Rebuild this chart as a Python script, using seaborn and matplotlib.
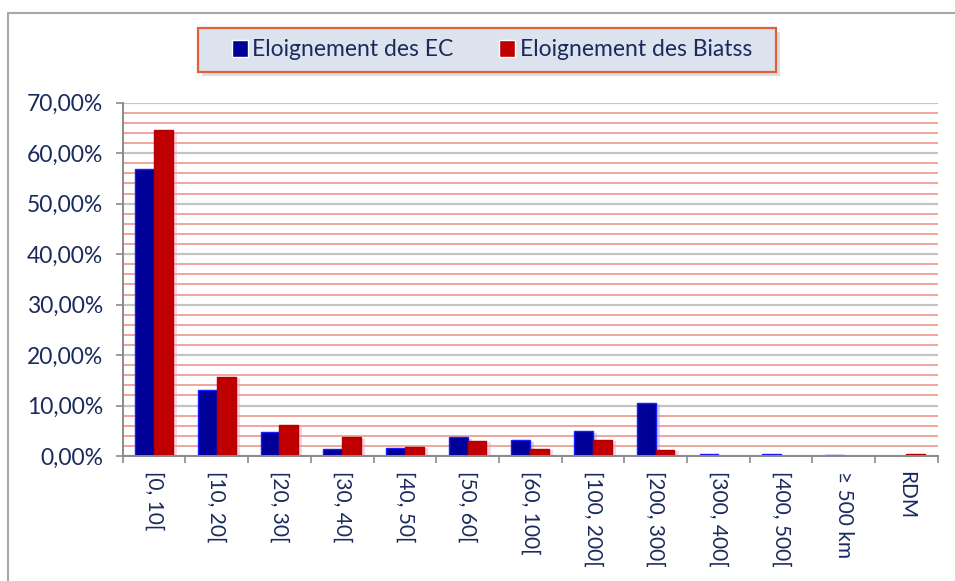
import matplotlib

matplotlib.use('Agg')
import matplotlib.pyplot as plt
import matplotlib.patheffects as pe
from matplotlib.lines import Line2D
from matplotlib.patches import Rectangle
from matplotlib.ticker import MultipleLocator, FuncFormatter, FixedLocator
import seaborn as sns
import pandas as pd

# distance classes (km) and share of staff in each
categories = ["[0, 10[", "[10, 20[", "[20, 30[", "[30, 40[", "[40, 50[", "[50, 60[",
              "[60, 100[", "[100, 200[", "[200, 300[", "[300, 400[", "[400, 500[",
              "≥ 500 km", "RDM"]
ec_pct = [56.8, 13.1, 4.8, 1.3, 1.5, 3.7, 3.1, 4.9, 10.5, 0.45, 0.35, 0.3, 0.0]
biatss_pct = [64.5, 15.7, 6.2, 3.7, 1.8, 3.0, 1.45, 3.2, 1.25, 0.1, 0.0, 0.0, 0.4]
series_names = ["Eloignement des EC", "Eloignement des Biatss"]

df = pd.DataFrame({
    "classe": categories * 2,
    "pct": ec_pct + biatss_pct,
    "serie": [series_names[0]] * len(categories) + [series_names[1]] * len(categories),
})

sns.set_style("white")
plt.rcParams['font.family'] = ['Lato', 'DejaVu Sans']
txt_color = '#1a2a5c'

fig = plt.figure(figsize=(9.55, 5.81), dpi=100)
ax = fig.add_axes([0.1285, 0.2151, 0.8535, 0.6081])

sns.barplot(data=df, x="classe", y="pct", hue="serie", order=categories,
            hue_order=series_names, palette=['#000099', '#c00000'], saturation=1,
            width=0.6, gap=0, ax=ax, legend=True)

# bar edges + soft glow like the original
n = len(categories)
for i, bar in enumerate(ax.patches[:2 * n]):
    if i < n:
        bar.set_edgecolor('#1a1aff')
        glow = '#9aa0ff'
    else:
        bar.set_edgecolor('#b00000')
        glow = '#ff9fc8'
    bar.set_linewidth(1.0)
    bar.set_path_effects([pe.SimplePatchShadow(offset=(3, -1), shadow_rgbFace=glow, alpha=0.45),
                          pe.Normal()])

ax.set_ylim(0, 70)
ax.set_xlim(-0.5, n - 0.5)
ax.yaxis.set_major_locator(MultipleLocator(10))
ax.yaxis.set_minor_locator(MultipleLocator(2))
ax.yaxis.set_major_formatter(FuncFormatter(lambda v, p: f"{v:.2f}".replace('.', ',') + "%"))
ax.set_axisbelow(True)
ax.grid(axis='y', which='minor', color='#f0a69c', lw=1.4)
ax.grid(axis='y', which='major', color='#c4c4c4', lw=1.6)

# category boundaries get the tick marks
ax.xaxis.set_minor_locator(FixedLocator([k - 0.5 for k in range(n + 1)]))
ax.tick_params(axis='x', which='major', length=0, pad=11, labelsize=15, labelcolor=txt_color)
ax.tick_params(axis='x', which='minor', bottom=True, length=5, width=1.2, color='#8a8a8a')
ax.tick_params(axis='y', which='major', left=True, length=5, width=1.2, color='#8a8a8a',
               labelsize=16.5, labelcolor=txt_color, pad=9)
ax.tick_params(axis='y', which='minor', length=0)
for lab in ax.get_xticklabels():
    lab.set_rotation(270)
    lab.set_va('top')
    lab.set_ha('center')

sns.despine(ax=ax, top=True, right=True)
for side in ['left', 'bottom']:
    ax.spines[side].set_color('#8a8a8a')
    ax.spines[side].set_linewidth(1.4)
ax.set_xlabel('')
ax.set_ylabel('')

# legend box drawn by hand, legend itself without frame
handles, labels = ax.get_legend_handles_labels()
ax.get_legend().remove()
bx, by, bw, bh = 198 / 955, 1 - 72 / 581, 578 / 955, 44 / 581
fig.add_artist(Rectangle((bx + 0.004, by - 0.007), bw, bh, transform=fig.transFigure,
                         facecolor='#c8c8c8', edgecolor='none', alpha=0.6, zorder=1))
fig.add_artist(Rectangle((bx, by), bw, bh, transform=fig.transFigure,
                         facecolor='#dde3ee', edgecolor='#e0603a', lw=1.6, zorder=2))
leg = fig.legend(handles, labels, loc='center', bbox_to_anchor=(492 / 955, 1 - 50 / 581),
                 ncol=2, frameon=False, fontsize=16.5, handlelength=0.7, handleheight=0.7,
                 handletextpad=0.2, columnspacing=2.0)
leg.set_zorder(3)
for t in leg.get_texts():
    t.set_color(txt_color)

# outer chart border (left and top only visible)
fig.add_artist(Line2D([8 / 955, 8 / 955], [0, 1 - 13 / 581], transform=fig.transFigure,
                      color='#a8a8a8', lw=1.5))
fig.add_artist(Line2D([8 / 955, 1], [1 - 13 / 581, 1 - 13 / 581], transform=fig.transFigure,
                      color='#a8a8a8', lw=1.5))

fig.savefig("out.png", dpi=100)
plt.close(fig)
